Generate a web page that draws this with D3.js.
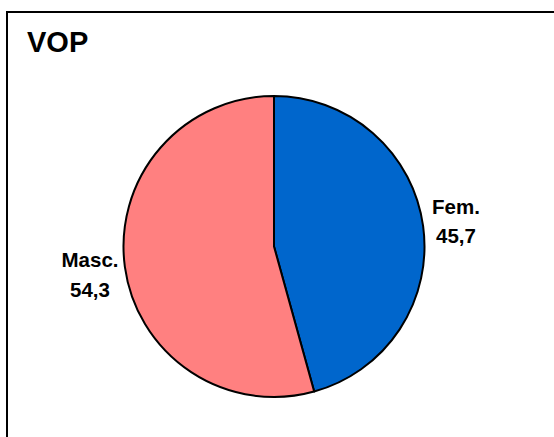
<!DOCTYPE html>
<html><head><meta charset="utf-8">
<script src="https://cdn.jsdelivr.net/npm/d3@7"></script>
<style>body{margin:0;background:#fff}svg{display:block}</style>
</head><body>
<script>
const categories = ["Fem.", "Masc."];
const values = [45.7, 54.3];
const valueLabels = ["45,7", "54,3"];
const colors = ["#0066CC", "#FF8080"];
const title = "VOP";

const W = 554, H = 437;
const svg = d3.select("body").append("svg").attr("width", W).attr("height", H);
svg.append("rect").attr("width", W).attr("height", H).attr("fill", "#fff");
svg.append("rect").attr("x", 7).attr("y", 12).attr("width", W + 10).attr("height", H + 10)
  .attr("fill", "none").attr("stroke", "#000").attr("stroke-width", 2);

svg.append("text").attr("x", 27).attr("y", 52).text(title)
  .attr("font-family", "Liberation Sans, Arial, sans-serif").attr("font-weight", "bold")
  .attr("font-size", 29).attr("fill", "#000");

const cx = 274, cy = 246.5, r = 150.5;
const pie = d3.pie().sort(null).value(d => d)(values);
const arc = d3.arc().innerRadius(0).outerRadius(r);
const g = svg.append("g").attr("transform", `translate(${cx},${cy})`);
g.selectAll("path").data(pie).join("path")
  .attr("d", arc).attr("fill", (d, i) => colors[i])
  .attr("stroke", "#000").attr("stroke-width", 2).attr("stroke-linejoin", "round");

const labelPos = [[456, 213.5], [90, 267]];
const lab = svg.append("g").attr("font-family", "Liberation Sans, Arial, sans-serif")
  .attr("font-weight", "bold").attr("font-size", 20.5).attr("fill", "#000").attr("text-anchor", "middle");
categories.forEach((c, i) => {
  const t = lab.append("text").attr("x", labelPos[i][0]).attr("y", labelPos[i][1]);
  t.append("tspan").attr("x", labelPos[i][0]).text(c);
  t.append("tspan").attr("x", labelPos[i][0]).attr("dy", 29.5).text(valueLabels[i]);
});
</script>
</body></html>
